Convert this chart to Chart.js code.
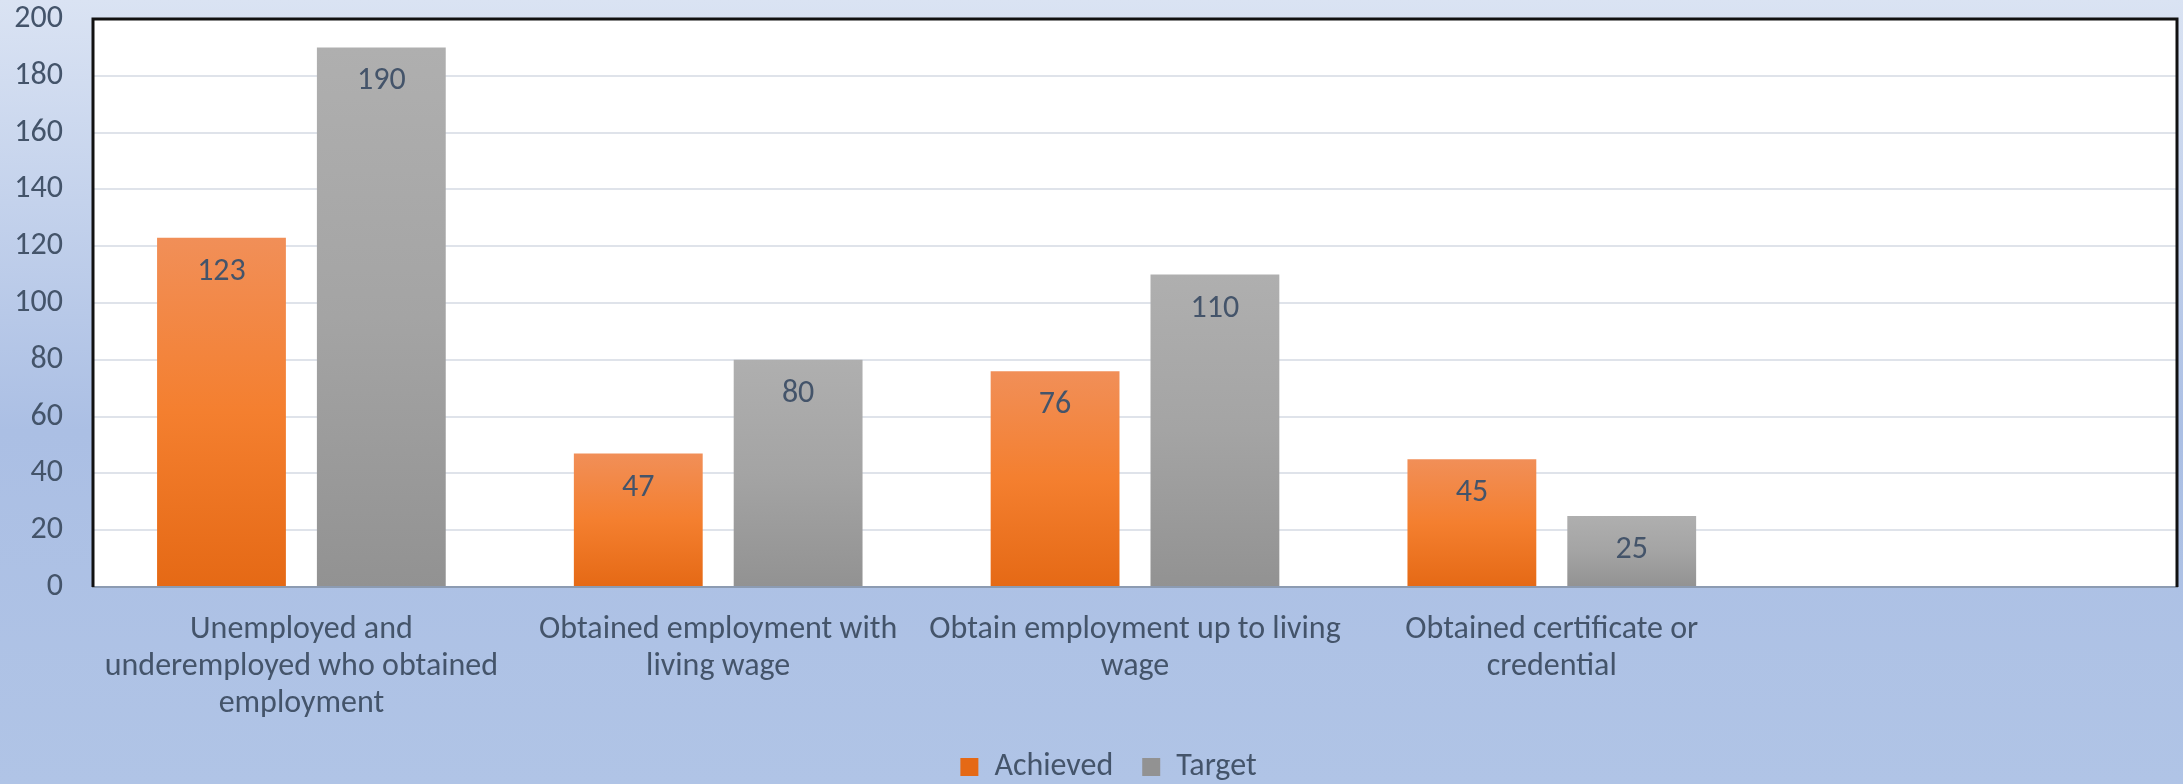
<!DOCTYPE html>
<html>
<head>
<meta charset="utf-8">
<script src="https://cdn.jsdelivr.net/npm/chart.js@4"></script>
<style>
  html, body { margin: 0; padding: 0; background: #fff; }
  #wrap { width: 2183px; height: 784px; }
</style>
</head>
<body>
<div id="wrap"><canvas id="chart" width="2183" height="784"></canvas></div>
<script>
// values
let categories = [
  ['Unemployed and', 'underemployed who obtained', 'employment'],
  ['Obtained employment with', 'living wage'],
  ['Obtain employment up to living', 'wage'],
  ['Obtained certificate or', 'credential'],
  ''
];
let achieved = [123, 47, 76, 45, null];
let target = [190, 80, 110, 25, null];
let yTicks = [0, 20, 40, 60, 80, 100, 120, 140, 160, 180, 200];

let textColor = '#44546a';
let fontFamily = 'Carlito, "Liberation Sans", sans-serif';

function barFill(top, bottom, fallback) {
  return function(ctx) {
    let chart = ctx.chart;
    if (!chart.chartArea || ctx.raw == null) return fallback;
    let y = chart.scales.y;
    let y0 = y.getPixelForValue(ctx.raw);
    let y1 = y.getPixelForValue(0);
    if (y1 - y0 < 1) return fallback;
    let g = chart.ctx.createLinearGradient(0, y0, 0, y1);
    g.addColorStop(0, top[0]);
    g.addColorStop(0.5, top[1]);
    g.addColorStop(1, bottom);
    return g;
  };
}

let backdrop = {
  id: 'backdrop',
  afterLayout(chart) {
    // sit the legend row a little lower and to the right, like the original
    let lg = chart.legend;
    let h = lg.bottom - lg.top;
    lg.top = 722;
    lg.bottom = 722 + h;
    lg.left += 20;
    lg.right += 20;
    // let the category labels use the room down to the legend
    let x = chart.scales.x;
    x.bottom = 722;
    x.height = x.bottom - x.top;
  },
  beforeDraw(chart) {
    let c = chart.ctx, a = chart.chartArea;
    c.save();
    let g = c.createLinearGradient(0, 0, 0, chart.height);
    g.addColorStop(0, '#dae3f3');
    g.addColorStop(0.55, '#abbfe4');
    g.addColorStop(1, '#b0c4e6');
    c.fillStyle = g;
    c.fillRect(0, 0, chart.width, chart.height);
    c.fillStyle = '#ffffff';
    c.fillRect(a.left, a.top, a.right - a.left, a.bottom - a.top);
    c.restore();
  },
  afterDraw(chart) {
    let c = chart.ctx, a = chart.chartArea;
    c.save();
    c.strokeStyle = '#111111';
    c.lineWidth = 3;
    c.beginPath();
    c.moveTo(a.left, a.bottom);
    c.lineTo(a.left, a.top);
    c.lineTo(a.right, a.top);
    c.lineTo(a.right, a.bottom);
    c.stroke();
    c.restore();
  }
};

let valueLabels = {
  id: 'valueLabels',
  afterDatasetsDraw(chart) {
    let c = chart.ctx;
    c.save();
    c.fillStyle = textColor;
    c.font = '32px ' + fontFamily;
    c.textAlign = 'center';
    c.textBaseline = 'middle';
    chart.data.datasets.forEach(function(ds, i) {
      chart.getDatasetMeta(i).data.forEach(function(el, j) {
        if (ds.data[j] == null) return;
        c.fillText(String(ds.data[j]), el.x, el.y + 34);
      });
    });
    c.restore();
  }
};

new Chart(document.getElementById('chart'), {
  type: 'bar',
  data: {
    labels: categories,
    datasets: [
      {
        label: 'Achieved',
        data: achieved,
        backgroundColor: barFill(['#f18f58', '#f47f2f'], '#e56915', '#f07d2f'),
        categoryPercentage: 0.767,
        barPercentage: 0.806
      },
      {
        label: 'Target',
        data: target,
        backgroundColor: barFill(['#afafaf', '#a4a4a4'], '#929292', '#a5a5a5'),
        categoryPercentage: 0.767,
        barPercentage: 0.806
      }
    ]
  },
  options: {
    responsive: false,
    animation: false,
    layout: { padding: { top: 19, right: 6, left: 0, bottom: 0 } },
    plugins: {
      tooltip: { enabled: false },
      legend: {
        position: 'bottom',
        labels: {
          color: textColor,
          font: { family: fontFamily, size: 32 },
          boxWidth: 18,
          boxHeight: 18,
          padding: 29
        }
      }
    },
    scales: {
      x: {
        grid: { display: false, drawTicks: false },
        border: { display: true, color: '#8c9bb2', width: 2 },
        ticks: {
          color: textColor,
          font: { family: fontFamily, size: 32, lineHeight: 1.16 },
          padding: 24,
          maxRotation: 0,
          autoSkip: false
        },
        afterFit(scale) { scale.height = 126; }
      },
      y: {
        min: 0,
        max: 200,
        afterBuildTicks(scale) { scale.ticks = yTicks.map(v => ({ value: v })); },
        grid: { color: '#dfe3ea', lineWidth: 2, drawTicks: false },
        border: { display: false },
        ticks: {
          color: textColor,
          font: { family: fontFamily, size: 32 },
          padding: 30
        },
        afterFit(scale) {
          scale.width = 93;
          scale.paddingTop = 0;
          scale.paddingBottom = 0;
        }
      }
    }
  },
  plugins: [backdrop, valueLabels]
});
</script>
</body>
</html>
